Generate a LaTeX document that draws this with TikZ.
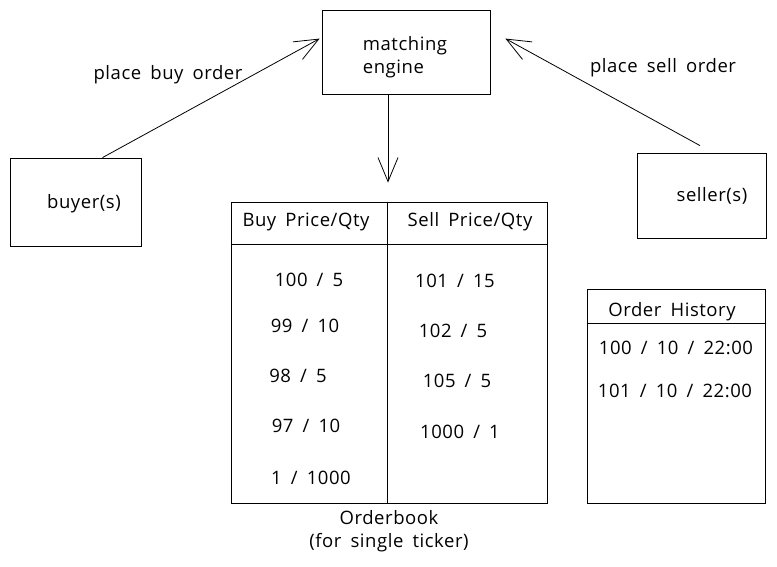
\documentclass[tikz,border=0pt]{standalone}
\usepackage{fontspec}
\setmainfont{Open Sans}[WordSpace=1.7, LetterSpace=3]
\usetikzlibrary{arrows.meta, positioning}

\begin{document}
\begin{tikzpicture}[x=1pt, y=-1pt, semithick, font=\fontsize{18.5}{23}\selectfont]
\tikzset{
    box/.style= {draw, thick, rectangle, inner sep=0pt},
    flow/.style= {-{Straight Barb[length=24pt, width=20pt]}, thick},
    lbl/.style= {inner sep=1pt},
}
\useasboundingbox (0,0) rectangle (777,567);

% parties and engine
\node[box, minimum width=168pt, minimum height=84pt] (engine) at (406,52) {};
\node[box, minimum width=131pt, minimum height=88pt] (buyer) at (75.5,202) {};
\node[box, minimum width=129pt, minimum height=85pt] (seller) at (702,195.5) {};
\node[lbl, align=left] (enginelbl) at (405,57) {matching\\engine};
\node[lbl] (buyerlbl) at (84,204) {buyer(s)};
\node[lbl] (sellerlbl) at (712,196) {seller(s)};

\node[lbl] (buylbl) at (168,75) {place buy order};
\node[lbl] (selllbl) at (663,68) {place sell order};

\draw[flow] ([xshift=27pt]buyer.north) -- ([xshift=-2pt, yshift=-29pt]engine.north west);
\draw[flow] ([xshift=-2pt, yshift=7pt]seller.north) -- ([xshift=15pt, yshift=-29pt]engine.north east);

% orderbook
\node[box, minimum width=316pt, minimum height=301pt] (book) at (389,352.5) {};
\draw[flow] ([xshift=-18pt]engine.south) -- ([xshift=-1pt, yshift=19pt]book.north);
\draw[thick] ([yshift=-43pt]book.north west) -- ([yshift=-43pt]book.north east);
\draw[thick] ([xshift=-2pt]book.north) -- ([xshift=-2pt]book.south);

\node[lbl] (buyhead) at (306,222) {Buy Price/Qty};
\node[lbl] (sellhead) at (470,222) {Sell Price/Qty};

\foreach \x/\y/\t [count=\i] in {309/280/{100 / 5}, 305/326/{99 / 10}, 298/376/{98 / 5}, 306/426/{97 / 10}, 311/478/{1 / 1000}}
    \node[lbl] (buy\i) at (\x,\y) {\t};
\foreach \x/\y/\t [count=\i] in {455/281/{101 / 15}, 453/331/{102 / 5}, 457/381/{105 / 5}, 460/432/{1000 / 1}}
    \node[lbl] (sell\i) at (\x,\y) {\t};

\node[lbl, align=center, below=6pt of book.south] (booklbl) {Orderbook\\(for single ticker)};

% history
\node[box, minimum width=178pt, minimum height=214pt] (history) at (676,396) {};
\draw[thick] ([yshift=-35pt]history.north west) -- ([yshift=-35pt]history.north east);
\node[lbl] (histhead) at (672,312) {Order History};
\node[lbl] (hist1) at (676,348) {100 / 10 / 22:00};
\node[lbl] (hist2) at (675,391) {101 / 10 / 22:00};
\end{tikzpicture}
\end{document}
